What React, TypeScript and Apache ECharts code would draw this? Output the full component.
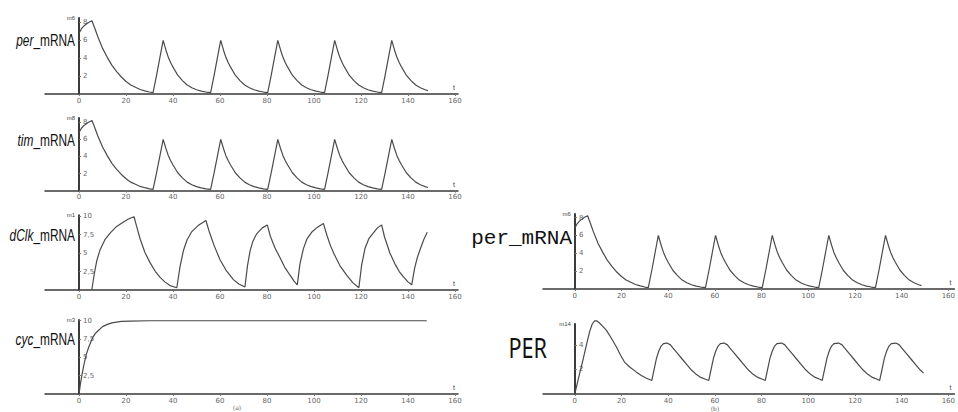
import React, { useEffect, useRef } from "react";
import * as echarts from "echarts";

// ---- data (t, value) ----
const X_TICKS = [0, 20, 40, 60, 80, 100, 120, 140, 160];

const perMRNA: [number, number][] = [
  [0, 6.8], [1, 7.3], [2, 7.6], [3, 7.8], [4, 8.0], [5.5, 8.2], [6.5, 7.5], [8, 6.4], [10, 5.1], [12, 4.1],
  [14, 3.2], [16, 2.5], [18, 1.9], [20, 1.4], [22, 1.0], [24, 0.75], [26, 0.5], [28, 0.35], [30, 0.22], [31.5, 0.15],
  [33, 2.1], [34.5, 4.2], [35.8, 6.0], [37, 4.9], [38, 4.1], [39, 3.5], [40, 3.0], [42, 2.1], [44, 1.5], [46, 1.0],
  [48, 0.7], [50, 0.48], [52, 0.33], [54, 0.22], [56, 0.15],
  [57.5, 2.1], [59, 4.2], [60.3, 6.0], [61.5, 4.9], [62.5, 4.1], [63.5, 3.5], [64.5, 3.0], [66.5, 2.1], [68.5, 1.5],
  [70.5, 1.0], [72.5, 0.7], [74.5, 0.48], [76.5, 0.33], [78.5, 0.22], [80.3, 0.15],
  [81.8, 2.1], [83.3, 4.2], [84.6, 6.0], [85.8, 4.9], [86.8, 4.1], [87.8, 3.5], [88.8, 3.0], [90.8, 2.1], [92.8, 1.5],
  [94.8, 1.0], [96.8, 0.7], [98.8, 0.48], [100.8, 0.33], [102.8, 0.22], [104.5, 0.15],
  [106, 2.1], [107.5, 4.2], [108.8, 6.0], [110, 4.9], [111, 4.1], [112, 3.5], [113, 3.0], [115, 2.1], [117, 1.5],
  [119, 1.0], [121, 0.7], [123, 0.48], [125, 0.33], [127, 0.22], [128.8, 0.15],
  [130.3, 2.1], [131.8, 4.2], [133.1, 6.0], [134.3, 4.9], [135.3, 4.1], [136.3, 3.5], [137.3, 3.0], [139.3, 2.1],
  [141.3, 1.5], [143.3, 1.0], [145.3, 0.7], [147.3, 0.48], [148.5, 0.38],
];

const timMRNA: [number, number][] = perMRNA.map((p) => [p[0], p[1]] as [number, number]);

const dClkMRNA: [number, number][] = [
  [5.4, 0], [6.5, 2.2], [7.5, 3.9], [8.9, 5.4], [11, 6.8], [13.2, 7.7], [16, 8.6], [18.9, 9.2], [21, 9.6], [23.4, 9.9],
  [24.5, 8.6], [26, 6.9], [28, 5.1], [30.2, 3.7], [32.5, 2.5], [34.5, 1.7], [36.5, 1.1], [38.7, 0.6], [41.6, 0.3],
  [43, 3.2], [44.4, 5.3], [46, 6.8], [48, 7.9], [51, 8.8], [54, 9.4],
  [55.5, 7.8], [57.5, 6.0], [60, 4.1], [62.5, 2.7], [65.7, 1.4], [68, 0.8], [70.6, 0.4],
  [71.7, 3.3], [72.8, 5.3], [74, 6.6], [75.6, 7.6], [78, 8.4], [80.1, 8.8],
  [81.5, 7.2], [83.5, 5.6], [85.5, 4.4], [87.5, 3.1], [89.8, 2.0], [91.5, 1.2], [92.9, 0.7],
  [94, 3.5], [95.5, 5.6], [97, 6.9], [99, 7.8], [101.5, 8.5], [104, 9.0],
  [105.5, 7.4], [107, 6.0], [108.5, 4.9], [111, 3.3], [113.9, 2.0], [116.5, 1.0], [119.1, 0.3],
  [120.3, 3.4], [121.7, 5.6], [123.3, 6.9], [125.2, 7.7], [127, 8.4], [128.8, 8.8],
  [130, 7.2], [132.3, 5.0], [134.5, 3.5], [136.3, 2.5], [138, 1.8], [140, 1.1], [141.6, 0.7],
  [142.8, 2.9], [144, 4.4], [145.1, 5.4], [146.7, 6.8], [148.2, 7.8],
];

const cycMRNA: [number, number][] = [
  [0, 0], [0.5, 1.2], [1, 2.2], [2, 3.9], [3, 5.3], [4, 6.3], [5, 7.1], [6, 7.8], [7, 8.3], [8, 8.6], [10, 9.2],
  [12, 9.5], [14, 9.7], [16, 9.8], [18, 9.9], [22, 9.96], [30, 10], [148, 10],
];

const perProtein: [number, number][] = [
  [0, 0], [1, 0.8], [2, 1.6], [3.5, 2.75], [5, 4.0], [6.4, 5.1], [7.5, 5.7], [8.5, 5.95], [9.5, 5.95], [10.5, 5.8],
  [12, 5.5], [13.5, 5.2], [15.5, 4.6], [17.8, 3.85], [19.5, 3.2], [21.3, 2.6], [23.5, 2.2], [26.3, 1.8], [28.5, 1.5],
  [30.5, 1.3], [33, 1.1],
  [34, 2.0], [35, 2.9], [36, 3.5], [37, 3.9], [38, 4.1], [39.5, 4.15], [41, 4.0], [42, 3.75], [44, 3.3], [46, 2.85],
  [48, 2.4], [50, 1.95], [52, 1.6], [54, 1.35], [56, 1.2], [57.4, 1.1],
  [58.4, 2.0], [59.4, 2.9], [60.4, 3.5], [61.4, 3.9], [62.4, 4.1], [63.9, 4.15], [65.4, 4.0], [66.4, 3.75], [68.4, 3.3],
  [70.4, 2.85], [72.4, 2.4], [74.4, 1.95], [76.4, 1.6], [78.4, 1.35], [80.4, 1.2], [81.6, 1.1],
  [82.6, 2.0], [83.6, 2.9], [84.6, 3.5], [85.6, 3.9], [86.6, 4.1], [88.6, 4.15], [90, 4.0], [91, 3.75], [93, 3.3],
  [95, 2.85], [97, 2.4], [99, 1.95], [101, 1.6], [103, 1.35], [105, 1.2], [106, 1.1],
  [107, 2.0], [108, 2.9], [109, 3.5], [110, 3.9], [111, 4.1], [113, 4.15], [114.5, 4.0], [115.5, 3.75], [117.5, 3.3],
  [119.5, 2.85], [121.5, 2.4], [123.5, 1.95], [125.5, 1.6], [127.5, 1.35], [129.5, 1.2], [130.6, 1.1],
  [131.6, 2.0], [132.6, 2.9], [133.6, 3.5], [134.6, 3.9], [135.6, 4.1], [137.6, 4.15], [139, 4.0], [140, 3.75],
  [142, 3.3], [144, 2.85], [146, 2.4], [148, 1.95], [149.4, 1.7],
];

const Y_TICKS_MRNA8 = [2, 4, 6, 8];
const Y_TICKS_10 = [2.5, 5, 7.5, 10];
const Y_TICKS_PER = [2, 4];

const AXIS_NAMES = ["m6", "m8", "m1", "m3", "m6", "m14"];

type Panel = {
  left: number; top: number; width: number; height: number;
  xMin: number; xMax: number; yMax: number; yTicks: number[];
  name: string; data: [number, number][];
};

const PANELS: Panel[] = [
  { left: 45, top: 18, width: 413, height: 76, xMin: -14.5, xMax: 161.3, yMax: 8.5, yTicks: Y_TICKS_MRNA8, name: AXIS_NAMES[0], data: perMRNA },
  { left: 45, top: 118, width: 413, height: 72.7, xMin: -14.5, xMax: 161.3, yMax: 8.5, yTicks: Y_TICKS_MRNA8, name: AXIS_NAMES[1], data: timMRNA },
  { left: 45, top: 215.3, width: 413, height: 74.7, xMin: -14.5, xMax: 161.3, yMax: 10.1, yTicks: Y_TICKS_10, name: AXIS_NAMES[2], data: dClkMRNA },
  { left: 45, top: 320, width: 413, height: 74, xMin: -14.5, xMax: 161.3, yMax: 10.1, yTicks: Y_TICKS_10, name: AXIS_NAMES[3], data: cycMRNA },
  { left: 543, top: 214, width: 414, height: 75, xMin: -13.6, xMax: 162.6, yMax: 8.4, yTicks: Y_TICKS_MRNA8, name: AXIS_NAMES[4], data: perMRNA },
  { left: 543, top: 324, width: 414, height: 70, xMin: -13.6, xMax: 162.6, yMax: 5.7, yTicks: Y_TICKS_PER, name: AXIS_NAMES[5], data: perProtein },
];

const LINE_COLOR = "#4a4a4a";
const AXIS_COLOR = "#3a3a3a";
const LABEL_COLOR = "#666";

function leftLabel(italicPart: string, y: number) {
  return {
    type: "text",
    x: 75,
    y,
    scaleX: 0.7,
    style: {
      text: `{i|${italicPart}}{n|_mRNA}`,
      align: "right",
      verticalAlign: "middle",
      rich: {
        i: { fontFamily: "Liberation Sans, Arial, sans-serif", fontSize: 17, fontStyle: "italic", fill: "#111" },
        n: { fontFamily: "Liberation Sans, Arial, sans-serif", fontSize: 17, fill: "#111" },
      },
    },
  };
}

export default function App() {
  const ref = useRef<HTMLDivElement>(null);

  useEffect(() => {
    if (!ref.current) return;
    const chart = echarts.init(ref.current, null, { renderer: "svg" });

    const grid = PANELS.map((p) => ({ left: p.left, top: p.top, width: p.width, height: p.height, containLabel: false }));
    const xAxis = PANELS.map((p, i) => ({
      gridIndex: i,
      type: "value",
      min: p.xMin,
      max: p.xMax,
      axisLine: { show: true, onZero: false, lineStyle: { color: AXIS_COLOR, width: 1.5 } },
      axisTick: { show: true, length: 2, customValues: X_TICKS, lineStyle: { color: "#777" } },
      axisLabel: { customValues: X_TICKS, fontSize: 7, color: LABEL_COLOR, margin: 3, fontFamily: "DejaVu Sans, sans-serif" },
      splitLine: { show: false },
      name: "t",
      nameLocation: "end",
      nameGap: -3,
      nameTextStyle: { fontSize: 7, color: "#444", align: "right", verticalAlign: "bottom", padding: [0, 0, 3, 0] },
    }));
    const yAxis = PANELS.map((p, i) => {
      // shift the y axis from the grid's left edge to t = 0
      const zeroOffset = (-p.xMin / (p.xMax - p.xMin)) * p.width;
      return {
        gridIndex: i,
        type: "value",
        position: "left",
        offset: -zeroOffset,
        min: 0,
        max: p.yMax,
        axisLine: { show: true, onZero: false, lineStyle: { color: AXIS_COLOR, width: 2 } },
        axisTick: { show: true, inside: true, length: 2, customValues: p.yTicks, lineStyle: { color: "#777" } },
        axisLabel: {
          inside: true,
          customValues: p.yTicks,
          fontSize: 7,
          color: LABEL_COLOR,
          margin: 4,
          fontFamily: "DejaVu Sans, sans-serif",
          formatter: (v: number) => String(v).replace(".", ","),
        },
        splitLine: { show: false },
        name: p.name,
        nameLocation: "end",
        nameGap: 0,
        nameTextStyle: { fontSize: 6, color: "#444", align: "right", verticalAlign: "middle", padding: [0, 4, 0, 0] },
      };
    });
    const series = PANELS.map((p, i) => ({
      type: "line",
      xAxisIndex: i,
      yAxisIndex: i,
      data: p.data,
      showSymbol: false,
      symbol: "none",
      clip: false,
      lineStyle: { color: LINE_COLOR, width: 1.2 },
    }));

    chart.setOption({
      animation: false,
      backgroundColor: "#ffffff",
      grid,
      xAxis,
      yAxis,
      series,
      graphic: [
        leftLabel("per", 40),
        leftLabel("tim", 140),
        leftLabel("dClk", 235),
        leftLabel("cyc", 339),
        {
          type: "text",
          x: 572,
          y: 238,
          style: {
            text: "per_mRNA",
            align: "right",
            verticalAlign: "middle",
            fontFamily: "Liberation Mono, DejaVu Sans Mono, monospace",
            fontSize: 21,
            fill: "#111",
          },
        },
        {
          type: "text",
          x: 547,
          y: 348,
          scaleX: 0.8,
          style: {
            text: "PER",
            align: "right",
            verticalAlign: "middle",
            fontFamily: "Noto Sans, sans-serif",
            fontSize: 27,
            fill: "#111",
          },
        },
        {
          type: "text",
          x: 237,
          y: 407,
          style: { text: "(a)", align: "center", verticalAlign: "middle", fontSize: 6, fill: "#666", fontFamily: "DejaVu Sans, sans-serif" },
        },
        {
          type: "text",
          x: 715,
          y: 408,
          style: { text: "(b)", align: "center", verticalAlign: "middle", fontSize: 6, fill: "#666", fontFamily: "DejaVu Sans, sans-serif" },
        },
      ],
    });

    return () => chart.dispose();
  }, []);

  return <div ref={ref} style={{ position: "absolute", left: 0, top: 0, width: 958, height: 412 }} />;
}
